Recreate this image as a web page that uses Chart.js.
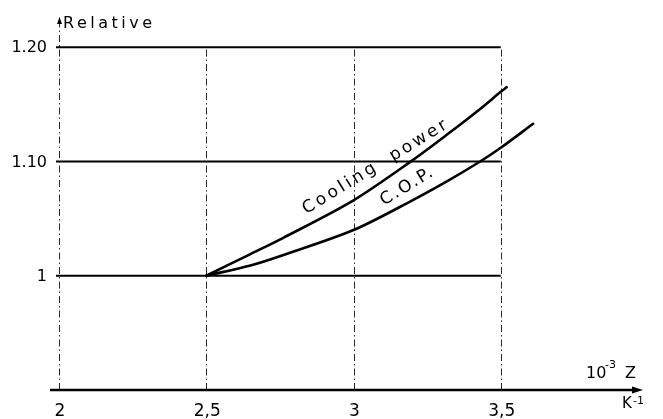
<!DOCTYPE html>
<html>
<head>
<meta charset="utf-8">
<script src="https://cdn.jsdelivr.net/npm/chart.js@4/dist/chart.umd.min.js"></script>
<style>
  html, body { margin: 0; padding: 0; background: #fff; }
  #c { display: block; }
</style>
</head>
<body>
<canvas id="c" width="663" height="419"></canvas>
<script>
// Relative cooling power and C.O.P. versus figure of merit Z (10^-3 K^-1)
const coolingZ   = [2.5, 2.65, 2.76, 3.0, 3.2, 3.32, 3.43, 3.5, 3.52];
const coolingRel = [1.000, 1.019, 1.033, 1.066, 1.101, 1.124, 1.146, 1.161, 1.165];
const copZ       = [2.5, 2.65, 2.76, 3.0, 3.2, 3.32, 3.43, 3.5, 3.61];
const copRel     = [1.000, 1.009, 1.018, 1.040, 1.066, 1.083, 1.100, 1.112, 1.133];

const zTicks        = [2, 2.5, 3, 3.5];
const zTickLabels   = ['2', '2,5', '3', '3,5'];
const relTicks      = [1, 1.1, 1.2];
const relTickLabels = ['1', '1.10', '1.20'];

const FONT = '"DejaVu Sans", sans-serif';

function toPoints(xs, ys) {
  return xs.map((x, i) => ({ x: x, y: ys[i] }));
}

function arrowHead(ctx, x, y, dir, len, half) {
  ctx.beginPath();
  if (dir === 'right') {
    ctx.moveTo(x, y);
    ctx.lineTo(x - len, y - half);
    ctx.lineTo(x - len, y + half);
  } else {
    ctx.moveTo(x, y);
    ctx.lineTo(x - half, y + len);
    ctx.lineTo(x + half, y + len);
  }
  ctx.closePath();
  ctx.fill();
}

const drawingFrame = {
  id: 'drawingFrame',
  beforeDraw(chart) {
    const ctx = chart.ctx;
    ctx.save();
    ctx.fillStyle = '#fff';
    ctx.fillRect(0, 0, chart.width, chart.height);
    ctx.restore();
  },
  beforeDatasetsDraw(chart) {
    const ctx = chart.ctx;
    const xs = chart.scales.x, ys = chart.scales.y;
    const zMin = zTicks[0], zMax = zTicks[zTicks.length - 1];
    const relTop = relTicks[relTicks.length - 1];
    const base = ys.getPixelForValue(ys.min);
    ctx.save();

    // dash-dot verticals
    ctx.strokeStyle = '#2a2a2a';
    ctx.lineWidth = 1;
    ctx.setLineDash([7, 3, 1.5, 3]);
    zTicks.forEach((z, i) => {
      const px = Math.round(xs.getPixelForValue(z)) + 0.5;
      const topPx = i === 0 ? 22 : ys.getPixelForValue(relTop);
      ctx.beginPath();
      ctx.moveTo(px, base);
      ctx.lineTo(px, topPx);
      ctx.stroke();
    });
    ctx.setLineDash([]);

    // solid horizontal levels
    ctx.strokeStyle = '#000';
    ctx.lineWidth = 2;
    relTicks.forEach(r => {
      const py = ys.getPixelForValue(r);
      ctx.beginPath();
      ctx.moveTo(xs.getPixelForValue(zMin) - 3, py);
      ctx.lineTo(xs.getPixelForValue(zMax), py);
      ctx.stroke();
    });

    // Z axis with arrow
    ctx.lineWidth = 2.6;
    const axisEnd = xs.getPixelForValue(xs.max) - 5;
    ctx.beginPath();
    ctx.moveTo(xs.getPixelForValue(zMin) - 9, base);
    ctx.lineTo(axisEnd - 6, base);
    ctx.stroke();
    ctx.fillStyle = '#000';
    arrowHead(ctx, axisEnd, base, 'right', 11, 3.5);

    // vertical arrow tip
    arrowHead(ctx, xs.getPixelForValue(zMin) + 0.5, 17, 'up', 7, 2.5);

    // tick labels
    ctx.fillStyle = '#000';
    ctx.font = '16px ' + FONT;
    ctx.textAlign = 'right';
    ctx.textBaseline = 'middle';
    relTicks.forEach((r, i) => {
      ctx.fillText(relTickLabels[i], xs.getPixelForValue(zMin) - 12, ys.getPixelForValue(r) + 1);
    });
    ctx.font = '17px ' + FONT;
    ctx.textAlign = 'center';
    ctx.textBaseline = 'alphabetic';
    zTicks.forEach((z, i) => {
      ctx.fillText(zTickLabels[i], xs.getPixelForValue(z) + 1, 416);
    });

    // axis titles
    ctx.textAlign = 'left';
    ctx.font = '16px ' + FONT;
    ctx.letterSpacing = '3.5px';
    ctx.fillText('Relative', xs.getPixelForValue(zMin) + 4, 28);
    ctx.letterSpacing = '0px';

    ctx.font = '16px ' + FONT;
    ctx.fillText('10', 586, 378);
    ctx.font = '11px ' + FONT;
    ctx.fillText('-3', 605, 368);
    ctx.font = '16px ' + FONT;
    ctx.fillText('Z', 625, 378);

    ctx.font = '15px ' + FONT;
    ctx.fillText('K', 622, 408);
    ctx.font = '11px ' + FONT;
    ctx.fillText('-1', 633, 404);

    ctx.restore();
  },
  afterDatasetsDraw(chart) {
    const ctx = chart.ctx;
    const xs = chart.scales.x, ys = chart.scales.y;
    const angle = -31.5 * Math.PI / 180;
    const words = [
      { text: 'Cooling', z: 2.964, rel: 1.0735, spacing: 3.2 },
      { text: 'power',   z: 3.232, rel: 1.1155, spacing: 2.9 },
      { text: 'C.O.P.',  z: 3.191, rel: 1.075,  spacing: 2.0 }
    ];
    ctx.save();
    ctx.fillStyle = '#000';
    ctx.font = '17px ' + FONT;
    ctx.textAlign = 'center';
    ctx.textBaseline = 'alphabetic';
    words.forEach(w => {
      ctx.save();
      ctx.translate(xs.getPixelForValue(w.z), ys.getPixelForValue(w.rel));
      ctx.rotate(angle);
      ctx.letterSpacing = w.spacing + 'px';
      ctx.fillText(w.text, 0, 0);
      ctx.restore();
    });
    ctx.restore();
  }
};

new Chart(document.getElementById('c'), {
  type: 'line',
  data: {
    datasets: [
      {
        label: 'Cooling power',
        data: toPoints(coolingZ, coolingRel),
        borderColor: '#000',
        borderWidth: 2.6,
        pointRadius: 0,
        tension: 0.3,
        borderCapStyle: 'round',
        fill: false
      },
      {
        label: 'C.O.P.',
        data: toPoints(copZ, copRel),
        borderColor: '#000',
        borderWidth: 2.6,
        pointRadius: 0,
        tension: 0.3,
        borderCapStyle: 'round',
        fill: false
      }
    ]
  },
  options: {
    responsive: false,
    devicePixelRatio: 1,
    animation: false,
    layout: { padding: { left: 59, right: 15, top: 47.25, bottom: 29 } },
    plugins: { legend: { display: false }, tooltip: { enabled: false } },
    scales: {
      x: { type: 'linear', min: 2, max: 4, display: false },
      y: { type: 'linear', min: 0.9, max: 1.2, display: false }
    }
  },
  plugins: [drawingFrame]
});
</script>
</body>
</html>
